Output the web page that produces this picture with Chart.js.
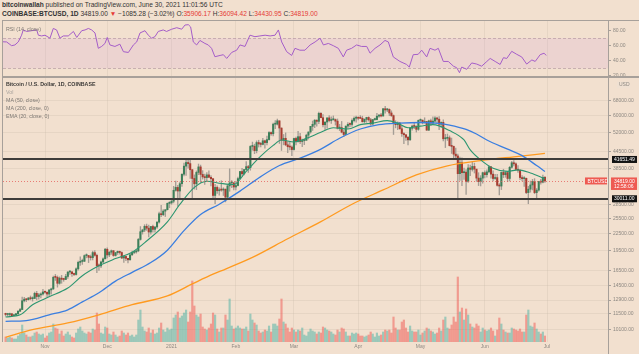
<!DOCTYPE html>
<html>
<head>
<meta charset="utf-8">
<script src="https://cdn.jsdelivr.net/npm/chart.js@4.4.1/dist/chart.umd.min.js"></script>
<style>
  html, body { margin: 0; padding: 0; }
  body { width: 639px; height: 354px; background: #f2e0cf; position: relative; overflow: hidden;
         font-family: "Liberation Sans", Arial, sans-serif; }
  canvas { position: absolute; left: 0; }
  #rsiChart { top: 20px; }
  #priceChart { top: 77px; }
  .txt { position: absolute; white-space: nowrap; line-height: 1; }
  .head { left: 2px; font-size: 6.6px; color: #333; }
  .red { color: #e53935; }
  .legend { left: 6px; font-size: 5.3px; color: #7d7873; }
  .line { position: absolute; background: #a7a09a; }
</style>
</head>
<body>
<div class="txt head" style="top:2px"><b>bitcoinwallah</b> published on TradingView.com, June 30, 2021 11:01:56 UTC</div>
<div class="txt head" style="top:11px"><b>COINBASE:BTCUSD, 1D</b> 34819.00 <span class="red">&#9660;</span> &minus;1085.28 (&minus;3.02%) O:<span class="red">35906.17</span> H:<span class="red">36094.42</span> L:<span class="red">34430.95</span> C:<span class="red">34819.00</span></div>

<canvas id="rsiChart" width="639" height="57"></canvas>
<canvas id="priceChart" width="639" height="277"></canvas>

<div class="line" style="left:2px;top:20px;width:1px;height:322px"></div>
<div class="line" style="left:2px;top:20px;width:637px;height:1px"></div>
<div class="line" style="left:2px;top:76px;width:637px;height:2px"></div>
<div class="line" style="left:608px;top:20px;width:1px;height:334px"></div>

<div class="txt legend" style="top:26.5px">RSI (14, close)</div>
<div class="txt legend" style="top:82.3px;color:#3c3a38;font-weight:bold">Bitcoin / U.S. Dollar, 1D, COINBASE</div>
<div class="txt legend" style="top:89.5px;color:#aaa49e">Vol</div>
<div class="txt legend" style="top:97.8px">MA (50, close)</div>
<div class="txt legend" style="top:105.8px">MA (200, close, 0)</div>
<div class="txt legend" style="top:113.8px">EMA (20, close, 0)</div>

<script>
// daily candles, Oct 13 2020 .. Jun 30 2021 (day 0 = Oct 13)
const firstOpen = 11540;
const closes = [
  11430,11430,11500,11320,11370,11510,11750,11915,12820,12990,12930,13120,13040,13070,13640,13280,13460,13560,13800,
  13760,13560,14030,14150,15590,15580,14830,15480,15330,15310,15700,16290,16320,16070,15960,16730,17660,17800,17820,18680,18700,18420,18370,19160,18730,17150,17140,17720,18180,19700,
  18790,19220,19450,18700,19150,19360,19170,18320,18550,18260,18040,18800,19170,19270,19440,21380,22800,23130,23860,23480,22750,23820,23250,23720,24710,26490,26280,27080,27390,28880,28990,
  29410,32200,33000,32020,34030,36830,39400,40620,40240,38240,35540,34010,37390,39150,36770,36020,35800,36630,35900,35470,30850,33000,32090,32280,32270,32510,30410,33410,34270,34270,33110,
  33520,35510,37670,36960,38300,39240,38880,46440,46500,44840,47980,47410,47230,48690,47940,49160,52150,51600,55900,55920,57490,54130,48900,49700,47060,46320,46200,45240,
  49630,48440,50370,48370,48760,48880,51000,52390,54900,55850,57790,57230,61190,59000,55650,56930,58920,57640,58030,58100,57350,54090,54340,52300,51300,55030,55840,55780,57630,58740,58790,
  58740,58720,57060,58200,59130,57990,56000,58090,58090,59770,60000,59860,63580,62960,63220,61380,60050,56200,55700,56470,53800,51700,51190,50100,49060,54020,55040,54860,53560,57700,
  57800,56580,57170,53200,57480,56430,57350,58870,58280,55860,56750,49500,49700,49900,46760,46450,43540,42900,36990,40560,37300,37470,34700,38800,38350,39300,38440,35660,34640,35650,37300,
  36690,37560,39190,36850,35540,35800,33570,33370,37390,36680,37340,35550,39020,40530,40160,38340,38090,35820,35480,35600,31600,32510,33680,34660,31590,32260,34650,34470,35906.17,34819
];
const highs = [
  11560,11550,11560,11540,11400,11530,11820,12040,13220,13180,13030,13170,13340,13250,13780,13860,13640,13690,14100,
  13890,13820,14070,14250,15750,15970,15770,15650,15840,15470,15970,16350,16490,16320,16150,16880,17860,18480,18150,18800,18960,18700,18770,19400,19490,18920,17450,17860,18350,19850,
  19920,19300,19580,19520,19170,19420,19420,19290,18640,18560,18280,18950,19410,19350,19570,21560,23800,23280,24180,24300,24100,23840,24120,23790,24780,26870,28400,27400,27400,28990,29300,
  29680,33300,34780,33600,34500,36940,40400,41950,41380,41350,38300,36630,37850,40100,39750,37950,36850,37300,37850,36400,35600,33830,33450,32880,34870,32900,32560,33780,38530,34900,34330,
  34700,35990,37700,38700,38300,40960,39700,46750,48150,47330,48650,48900,48100,49700,49000,50650,52600,52500,56370,57580,58350,57500,54200,51300,52000,48400,48400,46700,
  49800,50200,52650,51800,49400,49200,51450,52400,54900,57400,58100,58000,61800,61600,60600,56950,58990,60100,59400,59900,58400,58400,55830,57200,53200,55080,56600,56560,58400,59400,59800,
  59470,60040,59780,58500,59250,59480,58650,58160,58880,61200,60700,61250,63760,64900,63800,63550,62500,60400,57550,57000,56800,55400,52100,51200,50550,54300,55450,56400,55200,57950,
  58460,57950,58980,57230,57900,58350,59500,59550,59300,59600,57000,58000,51400,51500,50700,49800,46600,45800,43550,42450,42200,38800,38250,39900,39750,40850,40400,38200,37300,36400,37500,
  37900,38200,39480,39240,37900,36800,36800,34100,37530,38400,37700,37450,39300,41000,41300,40500,39550,38200,36450,36100,35700,33300,34800,35300,35500,32700,34700,35300,36600,36094.42
];
const lows = [
  11280,11300,11260,11230,11300,11350,11410,11700,11900,12700,12720,12900,12910,12780,13050,12920,12990,13140,13430,
  13620,13200,13300,13530,14090,15180,14360,14710,14830,15080,15270,15440,15960,15710,15810,15880,16560,17230,17360,17760,18340,17620,18000,18030,18580,16200,16520,16880,17570,18180,
  18330,18500,18880,18570,18600,18860,18900,18200,17650,17910,17570,18000,18700,19000,19050,19290,21240,22350,22800,23060,21810,22360,22700,22700,23440,24500,25850,26050,25880,27350,27850,
  28660,29000,32000,28130,29900,33300,36300,36500,38720,35550,30300,32530,32380,36700,34400,35360,33850,34870,35800,33400,30070,28800,31400,30900,31950,30840,29240,29860,31950,32900,32280,
  32300,33420,35380,36160,36600,38200,37380,38080,45000,43720,44000,46200,46280,47050,45800,47000,48950,50900,50700,53900,55500,47600,44900,47050,46700,44100,45100,43000,
  45000,47050,48100,47500,46300,47100,48900,49400,51850,53050,54300,55000,56100,59000,54600,53300,54100,57000,56300,57800,55500,53700,53000,52000,50400,51300,53960,54700,54900,57000,56900,
  57900,58500,56900,56500,56800,57350,55500,55700,57700,57880,59200,59400,59800,61300,62000,60000,59600,51300,54200,53400,53650,50450,47500,48800,47000,48800,53200,53900,52350,53100,
  57050,56050,56500,53050,52950,55200,56000,56900,56250,53400,54400,48600,46000,48800,46600,43800,42100,42250,30000,35000,33500,35300,31100,34400,36400,37800,37200,34700,33500,33400,34200,
  35700,35950,37200,35600,34800,35260,33370,31000,32400,35800,35900,34600,34800,38750,39500,38100,37400,35200,34800,33300,31300,28800,31700,32300,31300,30150,32000,33900,34250,34430.95
];
// volume, read as bar height
const volumes = [
  5,4,5,4,3,3,6,8,17,9,7,5,5,6,9,10,8,7,8,
  4,6,9,10,18,14,13,8,11,6,8,10,7,5,4,9,13,15,11,9,8,10,9,13,12,29,18,9,8,15,
  14,8,7,10,7,5,6,11,9,7,9,6,7,5,7,22,32,15,11,10,14,9,12,8,9,14,19,12,10,14,12,
  13,24,27,30,24,26,29,32,20,30,61,36,27,25,28,15,13,12,14,18,29,27,13,10,14,14,27,22,43,16,13,
  14,16,14,13,13,15,11,28,22,19,17,11,9,10,12,11,16,10,18,18,16,23,43,20,18,14,10,14,
  12,10,12,11,14,7,6,10,13,11,10,8,10,9,15,14,12,11,10,8,7,12,10,14,13,10,6,6,9,8,9,
  8,6,6,5,6,7,10,8,5,9,6,7,10,12,11,12,9,25,14,12,12,20,22,14,10,16,11,10,10,12,
  7,9,11,14,13,11,10,8,9,14,11,22,25,14,13,17,25,20,65,30,34,22,33,27,18,15,14,18,16,10,14,
  12,11,12,14,11,6,12,24,18,12,10,9,9,14,13,12,11,13,10,10,27,32,16,15,19,13,10,8,10,6
];

// indicator lines (day index, price)
const ema20Days = [0,7,13,21,30,37,45,53,61,68,78,84,91,97,104,110,116,123,129,133,139,145,152,158,165,171,177,184,189,194,200,206,214,221,224,229,235,242,247,253,260];
const ema20Vals = [11200,11400,12400,13250,14250,15800,17160,18220,19220,21100,24760,28620,33000,34730,34100,33800,37700,42800,46830,49000,48200,49700,52270,54300,53700,55700,56400,57600,56400,54300,55000,55700,53000,49000,45100,41500,38700,37700,38200,37200,35500];
const ma50Days = [0,10,21,30,37,45,53,61,70,78,86,94,103,113,123,132,142,152,161,171,180,190,200,209,214,222,227,232,242,249,256,260];
const ma50Vals = [10800,10870,11400,11890,12700,13700,15100,16250,17630,19550,23000,26300,28680,31980,36100,39600,42100,45400,49700,53700,55700,56400,56700,56270,55500,53500,51500,49000,45400,43000,39600,37700];
const ma200Days = [0,13,30,45,61,78,90,100,106,119,136,152,167,182,198,213,229,245,260];
const ma200Vals = [9450,10070,10650,11400,12400,13350,14750,16000,16700,18400,21500,24800,28680,32300,36600,39500,41260,42600,43800];

const rsiDays = [-1.9,0.5,2.9,4.5,6.1,7.7,8.5,10.2,12.6,15.0,15.8,17.4,19.0,21.4,23.0,24.6,26.2,27.8,30.2,32.7,34.3,36.7,38.3,39.9,41.5,43.1,44.7,46.3,47.9,49.0,50.3,52.7,55.1,56.8,59.2,61.6,63.2,64.8,67.2,68.8,70.4,72.0,73.6,76.0,77.6,80.1,82.5,84.9,86.5,88.1,89.2,90.5,92.1,93.7,96.1,97.7,99.3,100.9,103.4,105.0,106.6,109.0,111.4,113.0,115.4,117.8,120.2,122.6,125.1,127.5,129.9,131.5,133.1,135.5,137.9,139.5,141.9,144.3,146.8,149.2,151.6,
  153.2,155.6,158.0,160.4,162.8,164.4,166.8,169.2,171.6,174.1,175.7,178.1,180.5,182.9,184.5,186.9,190.1,193.3,194.6,196.5,198.9,200.6,203.0,204.6,207.0,208.6,211.0,213.4,215.9,217.5,218.8,219.9,222.3,224.7,227.1,229.5,232.0,233.6,236.0,238.4,240.0,241.6,244.0,246.4,248.8,251.2,253.7,255.3,257.7,259.6,260.6];
const rsiVals = [65.3,65,60,61,65,74,81,79,80,81,74,73,74,70,83,81,70,73,73,79,71,80,81,83,81,77,56.5,59,63,71,61,59,62,52,51,61,65,77,80,74,70,72,79,81,79,82,84,82,87.6,88,85,65,61,67,63,61,56.5,45.3,47,48,43,51,54,61,59,74,72,73,74,73,74,81,65,52,47,56.5,54,54,61,65,70,
  61,63,60,56.5,45,54,56.5,61,59,59,50,56.5,61,67,65,45,39,35,31.5,48,48.5,54,45,56.5,54,56.5,39,39,32.7,30.5,24,31.5,28.5,37,35.5,32.7,39,43,39,35,44,43,52.5,48.5,45,35.5,41,39,48,50,47];

const monthDays = [19, 49, 80, 111, 139, 170, 200, 231, 261];
const monthLabels = ['Nov', 'Dec', '2021', 'Feb', 'Mar', 'Apr', 'May', 'Jun', 'Jul'];
const priceTicks = [10100, 11500, 12900, 14500, 16500, 19500, 22500, 25500, 28500, 38500, 44500, 52000, 60000, 68000];
const rsiTicks = [20, 40, 60, 80];
const levels = [41651.49, 30011.00];
const lastPrice = 34819.00;

const opens = closes.map((c, i) => i ? closes[i - 1] : firstOpen);
const isUp = closes.map((c, i) => c >= opens[i]);

// layout calibration of the log price scale (page px)
const priceAtY = y => 68000 * Math.exp((100.7 - y) / 119.9);
const paneTop = 77, paneBottom = 342;
const xMin = -1.25, xMax = 290.4;
const gridColor = 'rgba(180,165,150,0.18)';
const tickFont = { family: 'Liberation Sans', size: 5 };
const tickColor = '#8d8882';

Chart.defaults.animation = false;
Chart.defaults.devicePixelRatio = 1;

function noPad(s) {
  s.paddingTop = 0; s.paddingBottom = 0; s.paddingLeft = 0; s.paddingRight = 0;
}

function xScale(showLabels) {
  return {
    type: 'linear', min: xMin, max: xMax, offset: false,
    afterBuildTicks: s => { s.ticks = monthDays.map(v => ({ value: v })); },
    afterFit: s => { s.height = showLabels ? 12 : 0; noPad(s); },
    ticks: { display: showLabels, autoSkip: false, maxRotation: 0, padding: 2, color: tickColor, font: tickFont,
             callback: v => monthLabels[monthDays.indexOf(v)] },
    grid: { color: gridColor, drawTicks: false, offset: false },
    border: { display: false }
  };
}

// RSI pane
const rsiBand = {
  id: 'rsiBand',
  beforeDatasetsDraw(chart) {
    const { ctx, chartArea: a, scales: { y } } = chart;
    const y70 = y.getPixelForValue(70), y30 = y.getPixelForValue(30);
    ctx.save();
    ctx.fillStyle = 'rgba(195,120,225,0.12)';
    ctx.fillRect(a.left, y70, a.right - a.left, y30 - y70);
    ctx.strokeStyle = 'rgba(150,120,140,0.45)';
    ctx.setLineDash([3, 2]);
    ctx.lineWidth = 1;
    [y70, y30].forEach(py => {
      ctx.beginPath(); ctx.moveTo(a.left, Math.round(py) + 0.5); ctx.lineTo(a.right, Math.round(py) + 0.5); ctx.stroke();
    });
    ctx.restore();
  }
};

new Chart(document.getElementById('rsiChart'), {
  type: 'line',
  data: {
    datasets: [{
      data: rsiDays.map((d, i) => ({ x: d, y: rsiVals[i] })),
      borderColor: '#a45cc8', borderWidth: 1, pointRadius: 0, tension: 0
    }]
  },
  options: {
    responsive: false,
    layout: { autoPadding: false, padding: { left: 3, right: 0, top: 0, bottom: 0 } },
    plugins: { legend: { display: false }, tooltip: { enabled: false } },
    scales: {
      x: xScale(false),
      y: {
        position: 'right', min: 18.27, max: 94.27,
        afterBuildTicks: s => { s.ticks = rsiTicks.map(v => ({ value: v })); },
        afterFit: s => { s.width = 31; noPad(s); },
        ticks: { padding: 2, color: tickColor, font: tickFont, callback: v => v.toFixed(2) },
        grid: { drawOnChartArea: false, tickLength: 3, tickColor: '#a7a09a' },
        border: { display: false }
      }
    }
  },
  plugins: [rsiBand]
});

// price pane
const levelPlugin = {
  id: 'levels',
  afterDatasetsDraw(chart) {
    const { ctx, chartArea: a, scales: { y } } = chart;
    ctx.save();
    const yc = Math.round(y.getPixelForValue(lastPrice)) + 0.5;
    ctx.strokeStyle = 'rgba(229,90,85,0.75)';
    ctx.lineWidth = 1;
    ctx.setLineDash([1, 2]);
    ctx.beginPath(); ctx.moveTo(a.left, yc); ctx.lineTo(a.right, yc); ctx.stroke();
    ctx.setLineDash([]);
    ctx.strokeStyle = '#3e3c3a';
    ctx.lineWidth = 2;
    levels.forEach(v => {
      const py = Math.round(y.getPixelForValue(v));
      ctx.beginPath(); ctx.moveTo(a.left, py); ctx.lineTo(a.right, py); ctx.stroke();
    });
    ctx.restore();
  },
  afterDraw(chart) {
    const { ctx, chartArea: a, scales: { y } } = chart;
    ctx.save();
    ctx.font = '5px "Liberation Sans"';
    ctx.textBaseline = 'middle';
    const box = (x, yTop, w, h, fill) => { ctx.fillStyle = fill; ctx.fillRect(x, yTop, w, h); };
    levels.forEach(v => {
      const py = y.getPixelForValue(v);
      box(a.right + 4, py - 3.5, 25, 7, '#131313');
      ctx.fillStyle = '#fff';
      ctx.fillText(v.toFixed(2), a.right + 6, py + 0.3);
    });
    const yc = y.getPixelForValue(lastPrice);
    box(a.right + 3, yc - 3.5, 26, 12.5, '#ee5a52');
    box(a.right - 23, yc - 3.5, 22, 7, '#ee5a52');
    ctx.fillStyle = '#fff';
    ctx.fillText(lastPrice.toFixed(2), a.right + 6, yc + 0.3);
    ctx.fillText('12:58:06', a.right + 6, yc + 6);
    ctx.fillText('BTCUSD', a.right - 20.5, yc + 0.3);
    box(a.right + 9, 4.5, 13, 7, '#efe0d2');
    ctx.fillStyle = '#8d8882';
    ctx.fillText('USD', a.right + 11, 8);
    ctx.restore();
  }
};

new Chart(document.getElementById('priceChart'), {
  type: 'bar',
  data: {
    datasets: [
      {
        type: 'line', data: ema20Days.map((d, i) => ({ x: d, y: ema20Vals[i] })),
        borderColor: '#2c9670', borderWidth: 1.1, pointRadius: 0, cubicInterpolationMode: 'monotone', order: 1
      },
      {
        type: 'line', data: ma50Days.map((d, i) => ({ x: d, y: ma50Vals[i] })),
        borderColor: '#3a7ee0', borderWidth: 1.3, pointRadius: 0, cubicInterpolationMode: 'monotone', order: 1
      },
      {
        type: 'line', data: ma200Days.map((d, i) => ({ x: d, y: ma200Vals[i] })),
        borderColor: '#ff9a1f', borderWidth: 1.3, pointRadius: 0, cubicInterpolationMode: 'monotone', order: 1
      },
      {
        data: closes.map((c, i) => ({ x: i, y: [opens[i], c] })),
        backgroundColor: isUp.map(u => u ? '#3c7f59' : '#a83c30'),
        barThickness: 1.4, minBarLength: 1, grouped: false, order: 2
      },
      {
        data: closes.map((c, i) => ({ x: i, y: [lows[i], highs[i]] })),
        backgroundColor: '#a49d95',
        barThickness: 0.7, grouped: false, order: 3
      },
      {
        yAxisID: 'yv',
        data: volumes.map((v, i) => ({ x: i, y: v })),
        backgroundColor: isUp.map(u => u ? 'rgba(38,166,154,0.42)' : 'rgba(239,83,80,0.5)'),
        barThickness: 1.5, grouped: false, order: 4
      }
    ]
  },
  options: {
    responsive: false,
    layout: { autoPadding: false, padding: { left: 3, right: 0, top: 0, bottom: 0 } },
    plugins: { legend: { display: false }, tooltip: { enabled: false } },
    scales: {
      x: xScale(true),
      y: {
        type: 'logarithmic', position: 'right',
        min: priceAtY(paneBottom), max: priceAtY(paneTop),
        afterBuildTicks: s => { s.ticks = priceTicks.map(v => ({ value: v })); },
        afterFit: s => { s.width = 31; noPad(s); },
        ticks: { autoSkip: false, padding: 2, color: tickColor, font: tickFont, callback: v => Number(v).toFixed(2) },
        grid: { color: gridColor, tickLength: 3, tickColor: '#a7a09a' },
        border: { display: false }
      },
      yv: { display: false, min: 0, max: paneBottom - paneTop }
    }
  },
  plugins: [levelPlugin]
});
</script>
</body>
</html>
